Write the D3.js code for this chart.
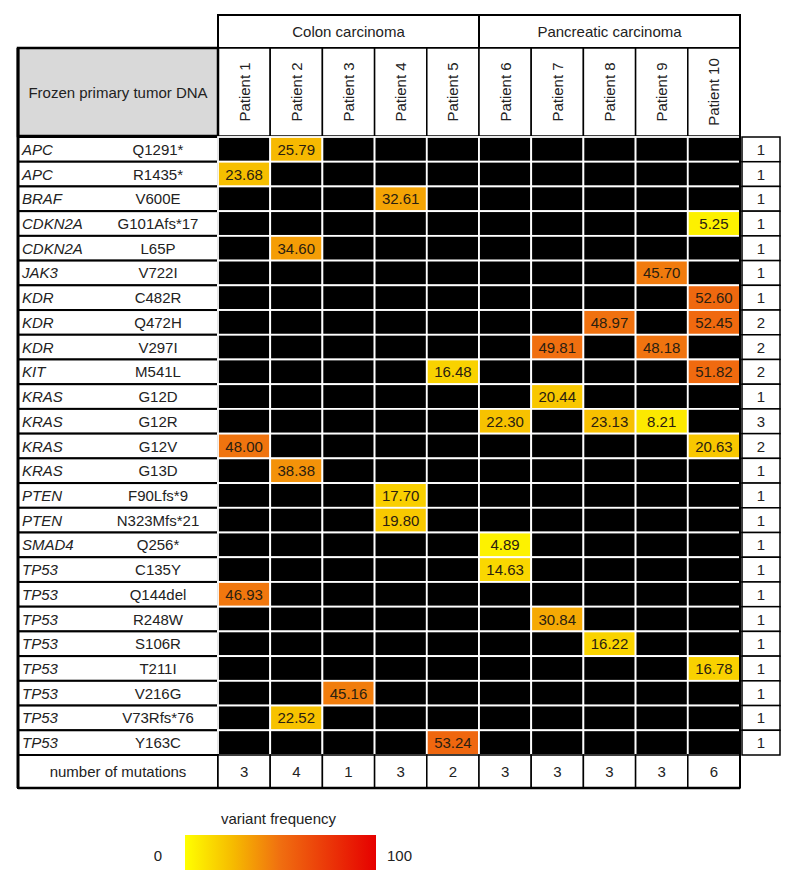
<!DOCTYPE html>
<html>
<head>
<meta charset="utf-8">
<script src="https://cdn.jsdelivr.net/npm/d3@7"></script>
<style>
  body { margin: 0; background: #fff; }
  svg { display: block; font-family: Arial, "Liberation Sans", sans-serif; }
</style>
</head>
<body>
<svg id="chart" width="800" height="883"></svg>
<script>
// ---------------- data ----------------
const patients = ["Patient 1","Patient 2","Patient 3","Patient 4","Patient 5","Patient 6","Patient 7","Patient 8","Patient 9","Patient 10"];
const groups = [
  { name: "Colon carcinoma", members: ["Patient 1","Patient 2","Patient 3","Patient 4","Patient 5"] },
  { name: "Pancreatic carcinoma", members: ["Patient 6","Patient 7","Patient 8","Patient 9","Patient 10"] }
];
const genes = ["APC","APC","BRAF","CDKN2A","CDKN2A","JAK3","KDR","KDR","KDR","KIT","KRAS","KRAS","KRAS","KRAS","PTEN","PTEN","SMAD4","TP53","TP53","TP53","TP53","TP53","TP53","TP53","TP53"];
const mutations = ["Q1291*","R1435*","V600E","G101Afs*17","L65P","V722I","C482R","Q472H","V297I","M541L","G12D","G12R","G12V","G13D","F90Lfs*9","N323Mfs*21","Q256*","C135Y","Q144del","R248W","S106R","T211I","V216G","V73Rfs*76","Y163C"];
// variant frequency per row, one entry per patient (null = not detected)
const frequencies = [
  [null, 25.79, null, null, null, null, null, null, null, null],
  [23.68, null, null, null, null, null, null, null, null, null],
  [null, null, null, 32.61, null, null, null, null, null, null],
  [null, null, null, null, null, null, null, null, null, 5.25],
  [null, 34.60, null, null, null, null, null, null, null, null],
  [null, null, null, null, null, null, null, null, 45.70, null],
  [null, null, null, null, null, null, null, null, null, 52.60],
  [null, null, null, null, null, null, null, 48.97, null, 52.45],
  [null, null, null, null, null, null, 49.81, null, 48.18, null],
  [null, null, null, null, 16.48, null, null, null, null, 51.82],
  [null, null, null, null, null, null, 20.44, null, null, null],
  [null, null, null, null, null, 22.30, null, 23.13, 8.21, null],
  [48.00, null, null, null, null, null, null, null, null, 20.63],
  [null, 38.38, null, null, null, null, null, null, null, null],
  [null, null, null, 17.70, null, null, null, null, null, null],
  [null, null, null, 19.80, null, null, null, null, null, null],
  [null, null, null, null, null, 4.89, null, null, null, null],
  [null, null, null, null, null, 14.63, null, null, null, null],
  [46.93, null, null, null, null, null, null, null, null, null],
  [null, null, null, null, null, null, 30.84, null, null, null],
  [null, null, null, null, null, null, null, 16.22, null, null],
  [null, null, null, null, null, null, null, null, null, 16.78],
  [null, null, 45.16, null, null, null, null, null, null, null],
  [null, 22.52, null, null, null, null, null, null, null, null],
  [null, null, null, null, 53.24, null, null, null, null, null]
];
const rowCounts = [1,1,1,1,1,1,1,2,2,2,1,3,2,1,1,1,1,1,1,1,1,1,1,1,1];
const mutationCounts = [3,4,1,3,2,3,3,3,3,6];
const headerLabel = "Frozen primary tumor DNA";
const footerLabel = "number of mutations";
const legendTitle = "variant frequency";
const legendDomain = [0, 100];

// ---------------- layout ----------------
const svg = d3.select("#chart");
const left = 18, labelRight = 218, gridRight = 740;
const countL = 742, countR = 780;
const groupTop = 15, groupBottom = 48, headerBottom = 136;
const rowsTop = 137, rowsBottom = 755, footerBottom = 788;
const mutX = 158;
const fontSize = 15;
const textColor = "#222";

const x = d3.scaleBand().domain(patients).range([labelRight, gridRight]);
const y = d3.scaleBand().domain(d3.range(genes.length)).range([rowsTop, rowsBottom]);

const color = d3.scaleLinear()
  .domain([0, 25, 50, 100])
  .range(["#ffff00", "#f6bb00", "#f06e10", "#e60000"])
  .clamp(true);

svg.append("rect").attr("width", 800).attr("height", 883).attr("fill", "#fff");

// group headers
groups.forEach(g => {
  const x0 = x(g.members[0]);
  const x1 = x(g.members[g.members.length - 1]) + x.bandwidth();
  svg.append("rect").attr("x", x0).attr("y", groupTop).attr("width", x1 - x0).attr("height", groupBottom - groupTop)
    .attr("fill", "#fff").attr("stroke", "#000").attr("stroke-width", 2);
  svg.append("text").attr("x", (x0 + x1) / 2).attr("y", (groupTop + groupBottom) / 2)
    .attr("text-anchor", "middle").attr("dominant-baseline", "central")
    .attr("font-size", fontSize).attr("fill", textColor).text(g.name);
});

// patient headers
const ph = svg.append("g");
patients.forEach(p => {
  ph.append("rect").attr("x", x(p)).attr("y", groupBottom).attr("width", x.bandwidth()).attr("height", headerBottom - groupBottom)
    .attr("fill", "#fff").attr("stroke", "#000").attr("stroke-width", 1.5);
  const cx = x(p) + x.bandwidth() / 2, cy = (groupBottom + headerBottom) / 2;
  ph.append("text").attr("transform", `translate(${cx},${cy}) rotate(-90)`)
    .attr("text-anchor", "middle").attr("dominant-baseline", "central")
    .attr("font-size", fontSize).attr("fill", textColor).text(p);
});

// frozen header cell
svg.append("rect").attr("x", left).attr("y", groupBottom).attr("width", labelRight - left).attr("height", headerBottom - groupBottom)
  .attr("fill", "#d9d9d9").attr("stroke", "#000").attr("stroke-width", 2.5);
svg.append("text").attr("x", (left + labelRight) / 2).attr("y", (groupBottom + headerBottom) / 2)
  .attr("text-anchor", "middle").attr("dominant-baseline", "central")
  .attr("font-size", fontSize).attr("fill", textColor).text(headerLabel);

// row labels
const rl = svg.append("g");
genes.forEach((g, i) => {
  rl.append("rect").attr("x", left).attr("y", y(i)).attr("width", labelRight - left).attr("height", y.bandwidth())
    .attr("fill", "#fff").attr("stroke", "#000").attr("stroke-width", 2);
  rl.append("text").attr("x", left + 4).attr("y", y(i) + y.bandwidth() / 2)
    .attr("dominant-baseline", "central").attr("font-style", "italic")
    .attr("font-size", fontSize).attr("fill", textColor).text(g);
  rl.append("text").attr("x", mutX).attr("y", y(i) + y.bandwidth() / 2)
    .attr("text-anchor", "middle").attr("dominant-baseline", "central")
    .attr("font-size", fontSize).attr("fill", textColor).text(mutations[i]);
});

// heat cells
const cells = [];
frequencies.forEach((row, i) => row.forEach((v, j) => cells.push({ i, p: patients[j], v })));
const cg = svg.append("g");
cg.selectAll("rect").data(cells).join("rect")
  .attr("x", d => x(d.p)).attr("y", d => y(d.i))
  .attr("width", x.bandwidth()).attr("height", y.bandwidth())
  .attr("fill", d => d.v == null ? "#000" : color(d.v))
  .attr("stroke", "#fff").attr("stroke-width", 1.8);
cg.selectAll("text").data(cells.filter(d => d.v != null)).join("text")
  .attr("x", d => x(d.p) + x.bandwidth() / 2).attr("y", d => y(d.i) + y.bandwidth() / 2)
  .attr("text-anchor", "middle").attr("dominant-baseline", "central")
  .attr("font-size", fontSize).attr("fill", "#2a2010")
  .text(d => d.v.toFixed(2));

// row counts column
const rc = svg.append("g");
rowCounts.forEach((c, i) => {
  rc.append("rect").attr("x", countL).attr("y", y(i)).attr("width", countR - countL).attr("height", y.bandwidth())
    .attr("fill", "#fff").attr("stroke", "#000").attr("stroke-width", 1.5);
  rc.append("text").attr("x", (countL + countR) / 2).attr("y", y(i) + y.bandwidth() / 2)
    .attr("text-anchor", "middle").attr("dominant-baseline", "central")
    .attr("font-size", fontSize).attr("fill", textColor).text(c);
});

// footer row
const fr = svg.append("g");
fr.append("rect").attr("x", left).attr("y", rowsBottom).attr("width", labelRight - left).attr("height", footerBottom - rowsBottom)
  .attr("fill", "#fff").attr("stroke", "#000").attr("stroke-width", 2);
fr.append("text").attr("x", (left + labelRight) / 2).attr("y", (rowsBottom + footerBottom) / 2)
  .attr("text-anchor", "middle").attr("dominant-baseline", "central")
  .attr("font-size", fontSize).attr("fill", textColor).text(footerLabel);
patients.forEach((p, j) => {
  fr.append("rect").attr("x", x(p)).attr("y", rowsBottom).attr("width", x.bandwidth()).attr("height", footerBottom - rowsBottom)
    .attr("fill", "#fff").attr("stroke", "#000").attr("stroke-width", 1.5);
  fr.append("text").attr("x", x(p) + x.bandwidth() / 2).attr("y", (rowsBottom + footerBottom) / 2)
    .attr("text-anchor", "middle").attr("dominant-baseline", "central")
    .attr("font-size", fontSize).attr("fill", textColor).text(mutationCounts[j]);
});

// thick outer borders
svg.append("line").attr("x1", left).attr("x2", left).attr("y1", groupBottom).attr("y2", footerBottom)
  .attr("stroke", "#000").attr("stroke-width", 3);
svg.append("line").attr("x1", left).attr("x2", gridRight).attr("y1", footerBottom).attr("y2", footerBottom)
  .attr("stroke", "#000").attr("stroke-width", 2.5);
svg.append("line").attr("x1", gridRight).attr("x2", gridRight).attr("y1", groupTop).attr("y2", footerBottom)
  .attr("stroke", "#000").attr("stroke-width", 2);

// legend
const lx0 = 185, lx1 = 376, ly0 = 835, ly1 = 870;
const defs = svg.append("defs");
const grad = defs.append("linearGradient").attr("id", "vfgrad").attr("x1", "0%").attr("x2", "100%");
color.domain().forEach(dv => {
  grad.append("stop").attr("offset", (dv - legendDomain[0]) / (legendDomain[1] - legendDomain[0]) * 100 + "%")
    .attr("stop-color", color(dv));
});
svg.append("rect").attr("x", lx0).attr("y", ly0).attr("width", lx1 - lx0).attr("height", ly1 - ly0)
  .attr("fill", "url(#vfgrad)");
svg.append("text").attr("x", (lx0 + lx1) / 2 - 2).attr("y", 818).attr("text-anchor", "middle")
  .attr("dominant-baseline", "central").attr("font-size", fontSize).attr("fill", textColor).text(legendTitle);
svg.append("text").attr("x", lx0 - 27).attr("y", (ly0 + ly1) / 2 + 3).attr("text-anchor", "middle")
  .attr("dominant-baseline", "central").attr("font-size", fontSize).attr("fill", textColor).text(legendDomain[0]);
svg.append("text").attr("x", lx1 + 11).attr("y", (ly0 + ly1) / 2 + 3).attr("text-anchor", "start")
  .attr("dominant-baseline", "central").attr("font-size", fontSize).attr("fill", textColor).text(legendDomain[1]);
</script>
</body>
</html>
